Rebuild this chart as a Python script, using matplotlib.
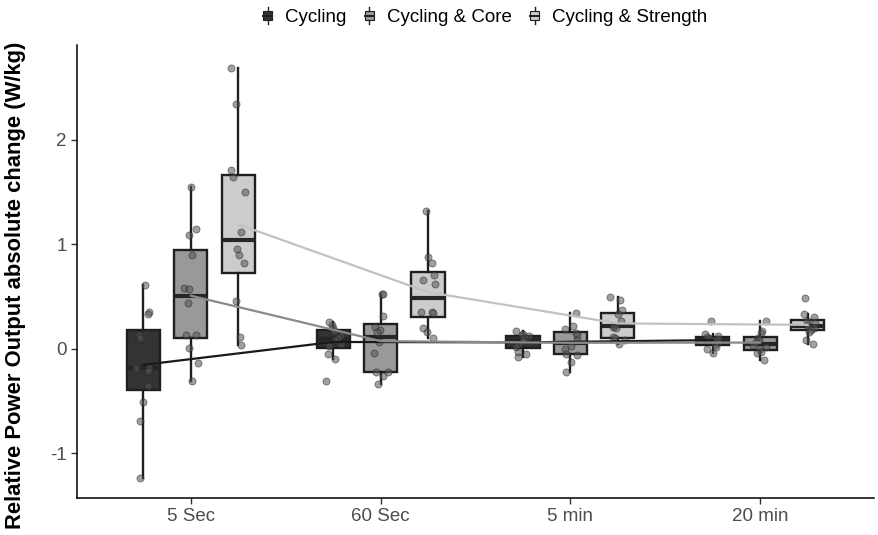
import matplotlib
matplotlib.use('Agg')
import matplotlib.pyplot as plt
import numpy as np
from matplotlib.legend_handler import HandlerBase
from matplotlib.patches import Rectangle, Patch
from matplotlib.lines import Line2D

plt.rcParams['font.family'] = ['Liberation Sans', 'DejaVu Sans']
plt.rcParams['axes.unicode_minus'] = False

# categories and groups
durations = ['5 Sec', '60 Sec', '5 min', '20 min']
groups = ['Cycling', 'Cycling & Core', 'Cycling & Strength']

# individual changes (W/kg), one list per duration
cycling = [
    [0.61, 0.35, 0.33, 0.13, 0.10, -0.18, -0.18, -0.21, -0.36, -0.51, -0.69, -1.24],
    [0.26, 0.23, 0.20, 0.17, 0.12, 0.10, 0.08, 0.05, 0.03, -0.05, -0.10, -0.31],
    [0.17, 0.14, 0.13, 0.12, 0.10, 0.09, 0.07, 0.05, 0.02, -0.03, -0.05, -0.08],
    [0.27, 0.14, 0.12, 0.11, 0.10, 0.09, 0.08, 0.06, 0.04, 0.02, 0.00, -0.04],
]
core = [
    [1.55, 1.15, 1.09, 0.90, 0.58, 0.57, 0.44, 0.13, 0.13, 0.01, -0.14, -0.31],
    [0.52, 0.52, 0.31, 0.21, 0.18, 0.16, 0.06, -0.04, -0.22, -0.22, -0.26, -0.34],
    [0.34, 0.22, 0.19, 0.15, 0.13, 0.08, 0.03, 0.00, -0.05, -0.06, -0.13, -0.22],
    [0.27, 0.17, 0.15, 0.10, 0.08, 0.06, 0.04, 0.02, 0.00, -0.03, -0.04, -0.11],
]
strength = [
    [2.69, 2.34, 1.71, 1.65, 1.50, 1.12, 0.96, 0.90, 0.82, 0.46, 0.11, 0.04],
    [1.32, 0.88, 0.82, 0.71, 0.66, 0.62, 0.35, 0.35, 0.34, 0.20, 0.16, 0.10],
    [0.50, 0.47, 0.37, 0.33, 0.27, 0.22, 0.21, 0.20, 0.11, 0.10, 0.08, 0.05],
    [0.49, 0.33, 0.30, 0.27, 0.25, 0.23, 0.21, 0.20, 0.18, 0.16, 0.08, 0.05],
]

fills = ['#333333', '#999999', '#cccccc']
line_colors = ['#1a1a1a', '#8a8a8a', '#c2c2c2']
dark = '#1f1f1f'


class BoxKey(HandlerBase):
    """ggplot-like boxplot legend key"""
    def create_artists(self, legend, orig_handle, xd, yd, w, h, fontsize, trans):
        x0, y0 = -xd, -yd
        cx = x0 + w / 2
        whisk = Line2D([cx, cx], [y0, y0 + h], color=dark, lw=1, transform=trans)
        rect = Rectangle((x0 + 0.12 * w, y0 + 0.22 * h), 0.76 * w, 0.56 * h,
                         facecolor=orig_handle.get_facecolor(), edgecolor=dark,
                         lw=0.8, transform=trans)
        med = Line2D([x0 + 0.12 * w, x0 + 0.88 * w], [y0 + h / 2] * 2,
                     color=dark, lw=1.4, transform=trans)
        return [whisk, rect, med]


fig = plt.figure(figsize=(8.79, 5.35), dpi=100, facecolor='white')
ax = fig.add_axes([77 / 879, 1 - 498 / 535, 797 / 879, 453 / 535])

x = np.arange(len(durations))
dodge = 0.25
width = 0.175
rng = np.random.default_rng(7)

for g, series in enumerate([cycling, core, strength]):
    pos = x + (g - 1) * dodge
    ax.boxplot(series, positions=pos, widths=width, patch_artist=True,
               showfliers=False, whis=1.5, manage_ticks=False,
               boxprops=dict(facecolor=fills[g], edgecolor=dark, linewidth=1.7),
               medianprops=dict(color='#262626', linewidth=3),
               whiskerprops=dict(color=dark, linewidth=1.7),
               capprops=dict(linewidth=0), zorder=2)
    for i, vals in enumerate(series):
        jit = rng.uniform(-0.04, 0.04, len(vals))
        ax.scatter(pos[i] + jit, vals, s=26, color='#555555', alpha=0.55,
                   edgecolors='#222222', linewidths=0.6, zorder=3)
    means = [np.mean(v) for v in series]
    ax.plot(pos, means, color=line_colors[g], lw=1.6, zorder=4)

ax.set_xlim(-0.6, 3.6)
ax.set_ylim(-1.43, 2.91)
ax.set_xticks(x)
ax.set_xticklabels(durations)
ax.set_yticks([-1, 0, 1, 2])
ax.set_yticklabels(['-1', '0', '1', '2'])
ax.tick_params(axis='both', labelsize=13.5, labelcolor='#4d4d4d', color='#333333',
               length=4, width=1)
ax.spines['top'].set_visible(False)
ax.spines['right'].set_visible(False)
ax.spines['left'].set_linewidth(1.1)
ax.spines['bottom'].set_linewidth(1.1)

fig.text(0.018, 1 - 285 / 535, 'Relative Power Output absolute change (W/kg)',
         rotation=90, ha='center', va='center', fontsize=15.8, fontweight='bold')

handles = [Patch(facecolor=c) for c in fills]
fig.legend(handles, groups, loc='upper center', bbox_to_anchor=(0.551, 1.018), ncol=3,
           frameon=False, handler_map={Patch: BoxKey()}, handlelength=0.65,
           handleheight=1.0, handletextpad=0.6, columnspacing=0.9, fontsize=13.5)

fig.savefig('out.png', dpi=100, facecolor='white')
